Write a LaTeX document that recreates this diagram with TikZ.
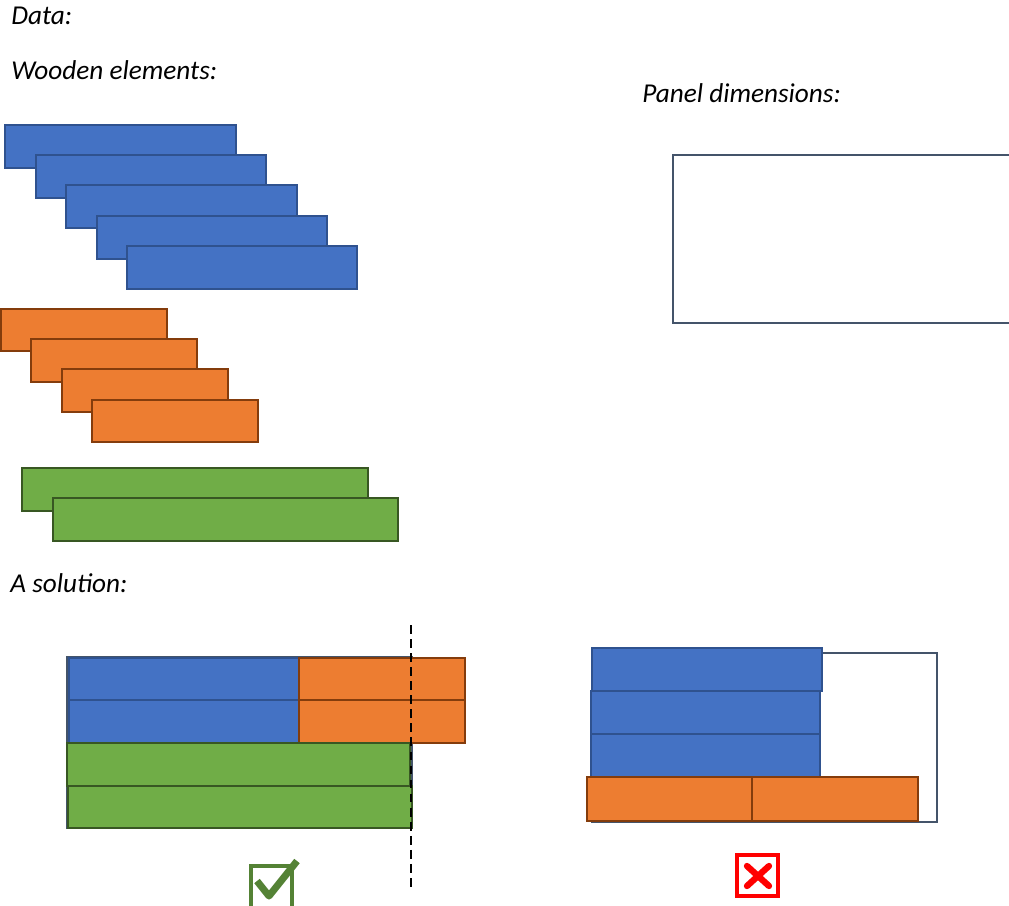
\documentclass[tikz,border=0pt]{standalone}
\usepackage{fontspec}
\setmainfont{Carlito}
\usepackage{xcolor}
\usepackage{tikz}

\definecolor{plankblue}{HTML}{4472C4}
\definecolor{blueedge}{HTML}{2F528F}
\definecolor{plankorange}{HTML}{ED7D31}
\definecolor{orangeedge}{HTML}{843C0C}
\definecolor{plankgreen}{HTML}{70AD47}
\definecolor{greenedge}{HTML}{385723}
\definecolor{slate}{HTML}{44546A}
\definecolor{okgreen}{HTML}{548235}

\begin{document}
\begin{tikzpicture}[x=0.02cm, y=-0.02cm,
    caption/.style={anchor=base west, inner sep=0pt, font=\itshape\fontsize{15.5}{18}\selectfont},
    blueplank/.style={draw=blueedge, fill=plankblue, line width=1.4pt},
    orangeplank/.style={draw=orangeedge, fill=plankorange, line width=1.4pt},
    greenplank/.style={draw=greenedge, fill=plankgreen, line width=1.4pt},
    panel/.style={draw=slate, line width=1.3pt}]

    \useasboundingbox (0,0) rectangle (1009,906);

    % Labels
    \node[caption] (data) at (11,25) {Data:};
    \node[caption] (wood) at (11,79) {Wooden elements:};
    \node[caption] (dims) at (642,102) {Panel dimensions:};
    \node[caption] (sol) at (10,592) {A solution:};

    % Wooden elements
    \draw[blueplank] (5,125) rectangle (236,168);
    \draw[blueplank] (36,155) rectangle (266,198);
    \draw[blueplank] (66,185) rectangle (297,228);
    \draw[blueplank] (97,216) rectangle (327,259);
    \draw[blueplank] (127,246) rectangle (357,289);

    \draw[orangeplank] (1,309) rectangle (167,351);
    \draw[orangeplank] (31,339) rectangle (197,382);
    \draw[orangeplank] (62,369) rectangle (228,412);
    \draw[orangeplank] (92,400) rectangle (258,442);

    \draw[greenplank] (22,468) rectangle (368,511);
    \draw[greenplank] (53,498) rectangle (398,541);

    % Panel dimensions
    \draw[panel] (673,155) rectangle (1015,323);

    % Solution that fits
    \draw[panel] (67,657) rectangle (412,828);
    \draw[blueplank] (69,658) rectangle (299,700);
    \draw[blueplank] (69,700) rectangle (299,743);
    \draw[orangeplank] (299,658) rectangle (465,700);
    \draw[orangeplank] (299,700) rectangle (465,743);
    \draw[greenplank] (67,743) rectangle (410,786);
    \draw[greenplank] (68,786) rectangle (412,828);
    \draw[black, line width=1.5pt, dash pattern=on 5pt off 3pt] (411,625) -- (411,889);

    \draw[okgreen, line width=2pt] (251,866) rectangle (292,908);
    \draw[okgreen, line width=4pt, line join=round] (257,881) -- (269,896) -- (297,861);

    % Solution that does not fit
    \draw[panel] (592,653) rectangle (937,822);
    \draw[blueplank] (592,648) rectangle (822,691);
    \draw[blueplank] (591,691) rectangle (820,734);
    \draw[blueplank] (591,734) rectangle (820,777);
    \draw[orangeplank] (587,777) rectangle (752,821);
    \draw[orangeplank] (752,777) rectangle (918,821);

    \draw[red, line width=2pt] (737,855) rectangle (778,896);
    \draw[red, line width=3.6pt, line cap=round] (747,866) -- (769,886);
    \draw[red, line width=3.6pt, line cap=round] (769,866) -- (747,886);
\end{tikzpicture}
\end{document}
